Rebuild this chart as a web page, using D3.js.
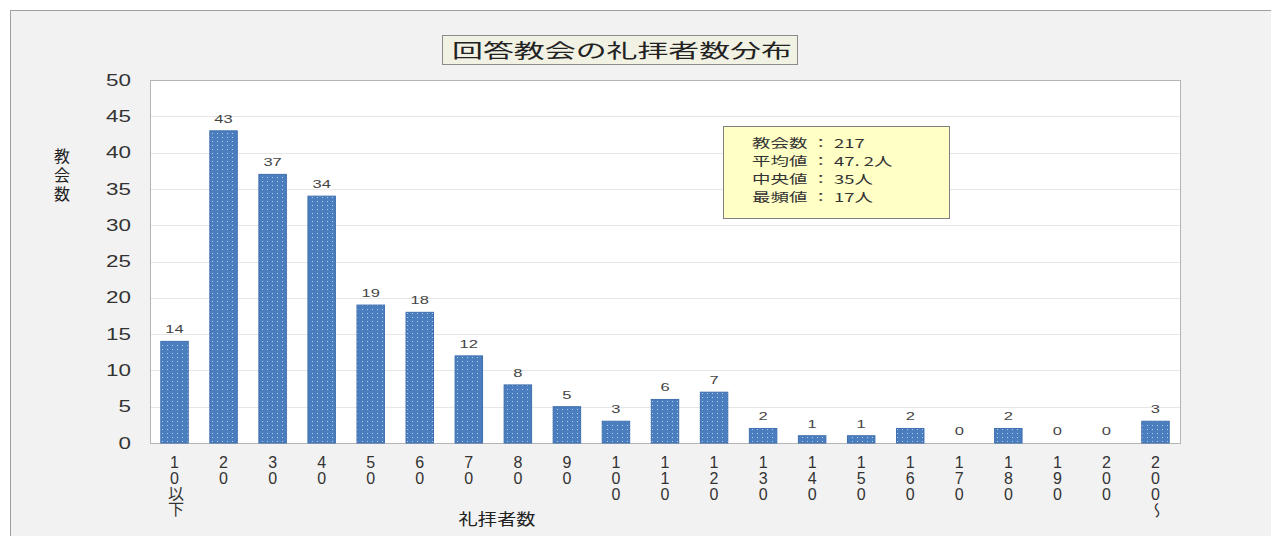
<!DOCTYPE html>
<html>
<head>
<meta charset="utf-8">
<script src="https://cdn.jsdelivr.net/npm/d3@7"></script>
<style>
  body { margin: 0; background: #fff; }
  svg { display: block; }
</style>
</head>
<body>
<div id="chart"></div>
<script>
var categories = ['10以下', '20', '30', '40', '50', '60', '70', '80', '90', '100', '110', '120',
  '130', '140', '150', '160', '170', '180', '190', '200', '200～'];
var counts = [14, 43, 37, 34, 19, 18, 12, 8, 5, 3, 6, 7, 2, 1, 1, 2, 0, 2, 0, 0, 3];
var yTicks = [0, 5, 10, 15, 20, 25, 30, 35, 40, 45, 50];
var stats = ['教会数 ： 217', '平均値 ： 47. 2人', '中央値 ： 35人', '最頻値 ： 17人'];

var W = 1271, H = 536;
var jp = '"Noto Sans CJK JP", sans-serif';
var num = '"Liberation Sans", Arial, sans-serif';
var plot = { left: 150, right: 1180, top: 80, bottom: 443 };

var svg = d3.select('#chart').append('svg')
  .attr('width', W)
  .attr('height', H)
  .style('font-family', jp);

// stretch a text horizontally, like the wide glyphs of the original
function stretch(sel, k) {
  sel.each(function() {
    var len = this.getComputedTextLength();
    d3.select(this)
      .attr('textLength', len * k)
      .attr('lengthAdjust', 'spacingAndGlyphs');
  });
}

// outer frame
svg.append('rect')
  .attr('x', 10.5).attr('y', 10.5)
  .attr('width', W).attr('height', H)
  .style('fill', '#f2f2f2')
  .style('stroke', '#a0a0a0');

// dotted bar pattern
var pat = svg.append('defs').append('pattern')
  .attr('id', 'dots')
  .attr('patternUnits', 'userSpaceOnUse')
  .attr('width', 5).attr('height', 4);
pat.append('rect').attr('width', 5).attr('height', 4).style('fill', '#4a7ebf');
pat.append('rect').attr('x', 2).attr('y', 1).attr('width', 1).attr('height', 1).style('fill', '#b8cdea');

var x = d3.scaleBand()
  .domain(categories)
  .range([plot.left, plot.right])
  .paddingInner(0.44)
  .paddingOuter(0.22);

var y = d3.scaleLinear()
  .domain([0, 50])
  .range([plot.bottom, plot.top]);

// plot background
svg.append('rect')
  .attr('x', plot.left).attr('y', plot.top)
  .attr('width', plot.right - plot.left)
  .attr('height', plot.bottom - plot.top)
  .style('fill', '#ffffff');

// gridlines
svg.append('g')
  .selectAll('line')
  .data(yTicks)
  .enter().append('line')
  .attr('x1', plot.left).attr('x2', plot.right)
  .attr('y1', function(d) { return Math.round(y(d)) + 0.5; })
  .attr('y2', function(d) { return Math.round(y(d)) + 0.5; })
  .style('stroke', '#e6e6e6');

// plot border
svg.append('rect')
  .attr('x', plot.left + 0.5).attr('y', plot.top + 0.5)
  .attr('width', plot.right - plot.left)
  .attr('height', plot.bottom - plot.top)
  .style('fill', 'none')
  .style('stroke', '#b4b4b4');

// y axis labels
var yAxis = svg.append('g')
  .attr('transform', 'translate(' + (plot.left - 19) + ',0)')
  .call(d3.axisLeft(y).tickValues(yTicks).tickSize(0).tickPadding(0));
yAxis.select('.domain').remove();
yAxis.selectAll('text')
  .style('font-family', num)
  .style('font-size', '16px')
  .style('fill', '#333')
  .call(stretch, 1.4);

// bars
svg.append('g')
  .selectAll('rect')
  .data(counts)
  .enter().append('rect')
  .attr('x', function(d, i) { return x(categories[i]); })
  .attr('y', function(d) { return y(d); })
  .attr('width', x.bandwidth())
  .attr('height', function(d) { return y(0) - y(d); })
  .style('fill', 'url(#dots)')
  .style('stroke', '#3f6fae')
  .style('stroke-width', 1);

// value labels
svg.append('g')
  .selectAll('text')
  .data(counts)
  .enter().append('text')
  .attr('x', function(d, i) { return x(categories[i]) + x.bandwidth() / 2; })
  .attr('y', function(d) { return y(d) - 8; })
  .attr('text-anchor', 'middle')
  .style('font-family', num)
  .style('font-size', '11px')
  .style('fill', '#444')
  .text(function(d) { return d; })
  .call(stretch, 1.5);

// x tick labels, written top to bottom
svg.append('g')
  .selectAll('text')
  .data(categories)
  .enter().append('text')
  .attr('x', function(d) { return x(d) + x.bandwidth() / 2; })
  .attr('y', 454)
  .style('writing-mode', 'vertical-rl')
  .style('text-orientation', 'upright')
  .style('font-family', num + ', ' + jp)
  .style('font-size', '16px')
  .style('letter-spacing', '-1px')
  .style('fill', '#333')
  .text(function(d) { return d; });

// axis titles
svg.append('text')
  .attr('x', 497).attr('y', 525)
  .attr('text-anchor', 'middle')
  .style('font-size', '16px')
  .style('fill', '#222')
  .text('礼拝者数')
  .call(stretch, 1.2);

svg.append('text')
  .attr('x', 62).attr('y', 148)
  .style('writing-mode', 'vertical-rl')
  .style('font-size', '16px')
  .style('letter-spacing', '3px')
  .style('fill', '#222')
  .text('教会数');

// title box
svg.append('rect')
  .attr('x', 442.5).attr('y', 35.5)
  .attr('width', 355).attr('height', 29)
  .style('fill', '#f1f1e4')
  .style('stroke', '#8c8c8c');
svg.append('text')
  .attr('x', 452).attr('y', 58)
  .style('font-size', '19px')
  .style('fill', '#222')
  .attr('textLength', 340)
  .attr('lengthAdjust', 'spacingAndGlyphs')
  .text('回答教会の礼拝者数分布');

// stats box
svg.append('rect')
  .attr('x', 723.5).attr('y', 126.5)
  .attr('width', 226).attr('height', 92)
  .style('fill', '#ffffc6')
  .style('stroke', '#7f7f7f');
svg.append('g')
  .selectAll('text')
  .data(stats)
  .enter().append('text')
  .attr('x', 752)
  .attr('y', function(d, i) { return 148 + i * 18; })
  .style('font-size', '12.3px')
  .style('fill', '#333')
  .text(function(d) { return d; })
  .call(stretch, 1.5);
</script>
</body>
</html>
